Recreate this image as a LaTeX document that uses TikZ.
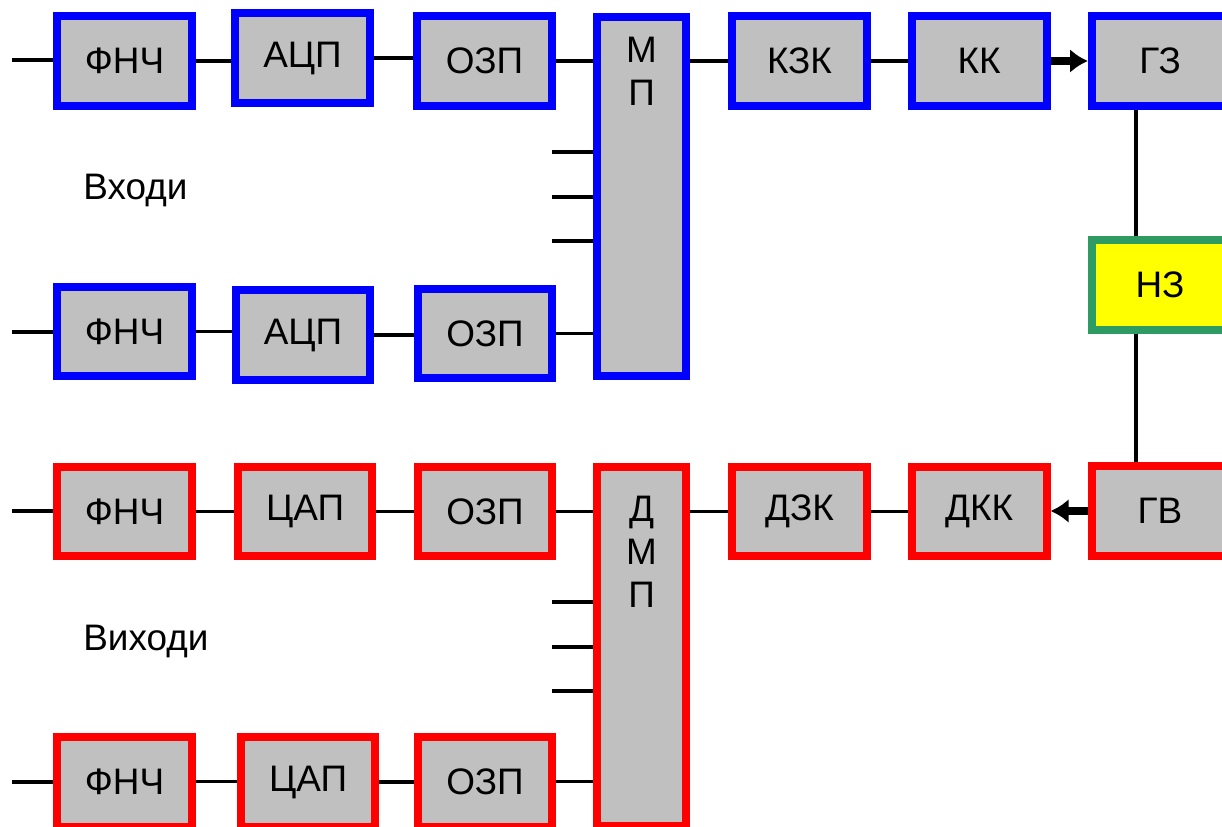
\documentclass[tikz,border=0pt]{standalone}
\usepackage{fontspec}
\setmainfont{Liberation Sans}
\usetikzlibrary{positioning,arrows.meta,calc}
\definecolor{chIn}{HTML}{0000FF}
\definecolor{chOut}{HTML}{FF0000}
\definecolor{chGen}{HTML}{2E9B62}
\definecolor{chFill}{HTML}{C0C0C0}
\definecolor{chNZ}{HTML}{FFFF00}

\begin{document}
\begin{tikzpicture}[
    x=0.02cm, y=-0.02cm,
    font=\fontsize{21}{24.4}\selectfont,
    box/.style={draw, line width=0.16cm, fill=chFill, minimum width=2.7cm, minimum height=1.8cm, inner sep=0pt},
    inbox/.style={box, draw=chIn},
    outbox/.style={box, draw=chOut},
    mux/.style={minimum width=1.78cm, minimum height=7.18cm},
    wire/.style={line width=0.075cm},
    arr/.style={line width=0.17cm, -{Latex[length=0.36cm,width=0.48cm]}},
]
\useasboundingbox (0,0) rectangle (1222,827);
\clip (0,0) rectangle (1222,827);

% ===== INPUTS (blue) =====
\node[inbox] (f1) at (124.5,61) {ФНЧ};
\node[inbox] (a1) at (302.5,58) {АЦП};
\node[inbox] (o1) at (484.5,61) {ОЗП};
\node[inbox, mux, label={[align=center, anchor=north, inner sep=0pt, yshift=-0.48cm]north:{М\\П}}] (mp) at (641.5,196.5) {};
\node[inbox] (kzk) at (799.5,61) {КЗК};
\node[inbox] (kk) at (979,61) {КК};
\node[inbox, minimum width=2.72cm] (gz) at (1160,61) {ГЗ};

\node[inbox] (f2) at (124.5,331.5) {ФНЧ};
\node[inbox] (a2) at (303,335) {АЦП};
\node[inbox] (o2) at (485,333.5) {ОЗП};

\node[anchor=base west, inner sep=0pt] (inlbl) at (83,200) {Входи};

% ===== SYNC BLOCK =====
\node[box, draw=chGen, fill=chNZ, minimum width=2.72cm] (nz) at (1160,285) {НЗ};

% ===== OUTPUTS (red) =====
\node[outbox] (f3) at (124.5,511.5) {ФНЧ};
\node[outbox] (c3) at (305,511.5) {ЦАП};
\node[outbox] (o3) at (485,511.5) {ОЗП};
\node[outbox, mux, label={[align=center, anchor=north, inner sep=0pt, yshift=-0.66cm]north:{Д\\М\\П}}] (dmp) at (641.5,646.5) {};
\node[outbox] (dzk) at (799.5,511.5) {ДЗК};
\node[outbox] (dkk) at (979,511.5) {ДКК};
\node[outbox, minimum width=2.72cm] (gv) at (1160,511) {ГВ};

\node[outbox] (f4) at (124.5,781.5) {ФНЧ};
\node[outbox] (c4) at (308,782) {ЦАП};
\node[outbox] (o4) at (485,781.5) {ОЗП};

\node[anchor=base west, inner sep=0pt] (outlbl) at (83,650) {Виходи};

% ===== WIRES =====
\foreach \n/\y in {1/60, 2/332, 3/511, 4/782}{
    \coordinate (in\n) at (12,\y);
    \draw[wire] (in\n) -- (in\n -| f\n.west);
}
\foreach \a/\b in {f1/a1, a1/o1, o1/mp, f2/a2, a2/o2, o2/mp, f3/c3, c3/o3, o3/dmp, f4/c4, c4/o4, o4/dmp, dzk/dkk, kzk/kk}
    \draw[wire] (\a.east) -- (\a.east -| \b.west);
\draw[wire] (kzk.west) -- (kzk.west -| mp.east);
\draw[wire] (dzk.west) -- (dzk.west -| dmp.east);

% spare mux inputs
\foreach \y [count=\i] in {152,197,241}{
    \coordinate (mps\i) at (552,\y);
    \draw[wire] (mps\i) -- (mps\i -| mp.west);
}
\foreach \y [count=\i] in {602,647,691}{
    \coordinate (dmps\i) at (552,\y);
    \draw[wire] (dmps\i) -- (dmps\i -| dmp.west);
}

% generators
\draw[wire] ([xshift=-0.48cm]gz.south) -- ([xshift=-0.48cm]nz.north);
\draw[wire] ([xshift=-0.48cm]nz.south) -- ([xshift=-0.48cm]gv.north);
\draw[arr] (kk.east) -- (kk.east -| gz.west);
\draw[arr] (gv.west) -- (gv.west -| dkk.east);

\end{tikzpicture}
\end{document}
